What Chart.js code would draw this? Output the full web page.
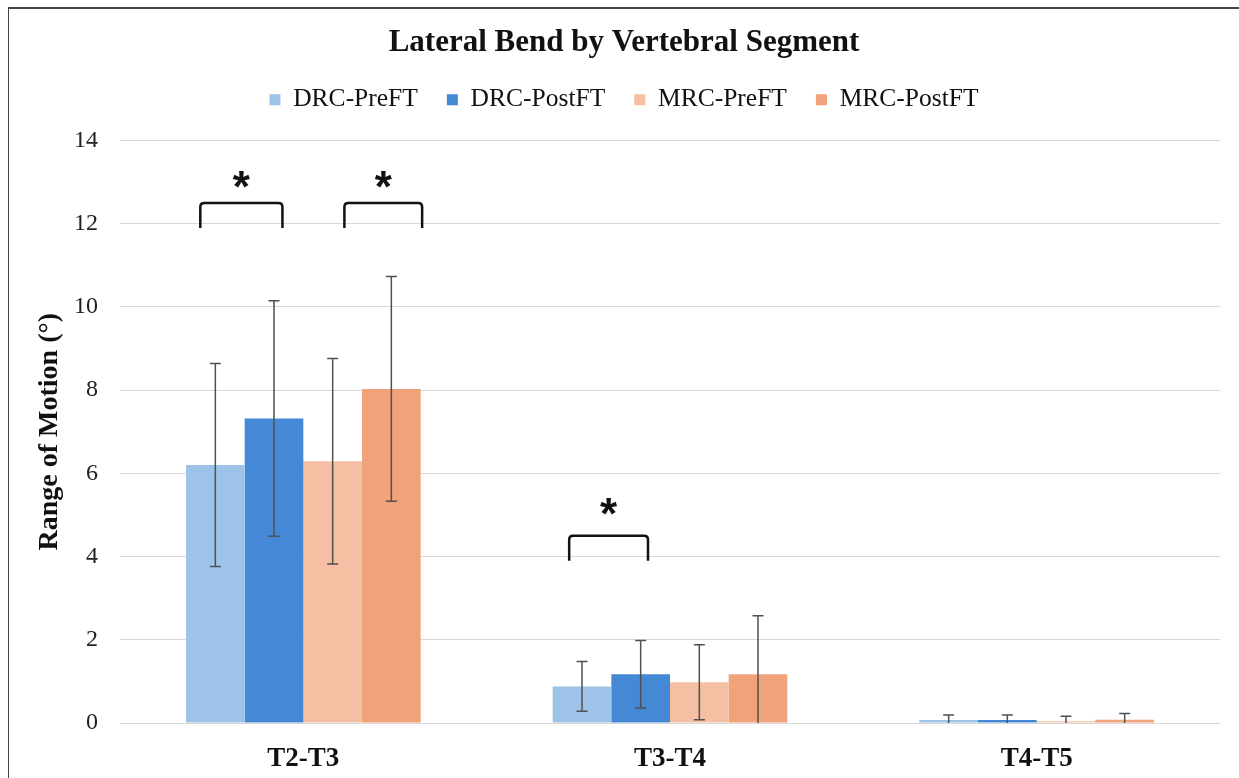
<!DOCTYPE html>
<html>
<head>
<meta charset="utf-8">
<script src="https://cdn.jsdelivr.net/npm/chart.js@4.4.0/dist/chart.umd.min.js"></script>
<style>
  html, body { margin: 0; padding: 0; background: #fff; }
  #wrap { position: relative; width: 1239px; height: 778px; }
  #frame { position: absolute; left: 8px; top: 7px; right: -2px; bottom: -2px; border-top: 2px solid #444; border-left: 1px solid #444; pointer-events: none; }
  canvas { position: absolute; left: 0; top: 0; }
</style>
</head>
<body>
<div id="wrap">
  <canvas id="c" width="1239" height="778"></canvas>
  <div id="frame"></div>
</div>
<script>
const categories = ["T2-T3", "T3-T4", "T4-T5"];
const seriesNames = ["DRC-PreFT", "DRC-PostFT", "MRC-PreFT", "MRC-PostFT"];
const drcPre = [6.2, 0.88, 0.07];
const drcPost = [7.32, 1.17, 0.07];
const mrcPre = [6.29, 0.98, 0.04];
const mrcPost = [8.03, 1.17, 0.08];
const drcPreErr = [2.44, 0.6, 0.12];
const drcPostErr = [2.83, 0.81, 0.12];
const mrcPreErr = [2.47, 0.9, 0.12];
const mrcPostErr = [2.7, 1.41, 0.15];
const yTicks = [0, 2, 4, 6, 8, 10, 12, 14];
const colors = ["#9dc3e8", "#4589d6", "#f4bfa2", "#f0a27a"];

// significance brackets: category, left/right offset (in category units), top, leg bottom, star level
const bracketCat = [0, 0, 1];
const bracketFrom = [-0.281, 0.112, -0.275];
const bracketTo = [-0.057, 0.324, -0.06];
const bracketTop = [12.5, 12.5, 4.5];
const bracketLeg = [11.9, 11.9, 3.9];
const starLevel = [13.05, 13.05, 5.2];

const values = [drcPre, drcPost, mrcPre, mrcPost];
const errs = [drcPreErr, drcPostErr, mrcPreErr, mrcPostErr];

const legendGap = {
  id: 'legendGap',
  beforeLayout(chart) {
    const lg = chart.legend;
    if (lg && !lg._gapPatched) {
      const orig = lg.fit;
      lg.fit = function () { orig.call(this); this.height += 18; };
      lg._gapPatched = true;
    }
  }
};

const errorBars = {
  id: 'errorBars',
  afterDatasetsDraw(chart) {
    const ctx = chart.ctx;
    const y = chart.scales.y;
    const area = chart.chartArea;
    ctx.save();
    ctx.strokeStyle = '#505050';
    ctx.lineWidth = 1.5;
    chart.data.datasets.forEach((ds, di) => {
      const meta = chart.getDatasetMeta(di);
      meta.data.forEach((bar, i) => {
        const v = values[di][i], e = errs[di][i];
        const yt = y.getPixelForValue(v + e);
        let yb = y.getPixelForValue(v - e);
        const clipped = yb > area.bottom;
        if (clipped) yb = area.bottom;
        const x = bar.x;
        ctx.beginPath();
        ctx.moveTo(x, yt); ctx.lineTo(x, yb);
        ctx.moveTo(x - 5.5, yt); ctx.lineTo(x + 5.5, yt);
        if (!clipped) { ctx.moveTo(x - 5.5, yb); ctx.lineTo(x + 5.5, yb); }
        ctx.stroke();
      });
    });
    ctx.restore();
  }
};

const brackets = {
  id: 'brackets',
  afterDatasetsDraw(chart) {
    const ctx = chart.ctx;
    const xs = chart.scales.x, ys = chart.scales.y;
    const catW = xs.getPixelForValue(1) - xs.getPixelForValue(0);
    ctx.save();
    ctx.strokeStyle = '#111';
    ctx.lineWidth = 2.5;
    ctx.lineJoin = 'round';
    ctx.lineCap = 'butt';
    for (let k = 0; k < bracketCat.length; k++) {
      const c = xs.getPixelForValue(bracketCat[k]);
      const x1 = c + bracketFrom[k] * catW;
      const x2 = c + bracketTo[k] * catW;
      const yt = ys.getPixelForValue(bracketTop[k]);
      const yl = ys.getPixelForValue(bracketLeg[k]);
      const r = 4;
      ctx.beginPath();
      ctx.moveTo(x1, yl);
      ctx.lineTo(x1, yt + r);
      ctx.quadraticCurveTo(x1, yt, x1 + r, yt);
      ctx.lineTo(x2 - r, yt);
      ctx.quadraticCurveTo(x2, yt, x2, yt + r);
      ctx.lineTo(x2, yl);
      ctx.stroke();
      ctx.fillStyle = '#111';
      ctx.font = 'bold 44px "Liberation Sans", Arial, sans-serif';
      ctx.textAlign = 'center';
      ctx.textBaseline = 'middle';
      ctx.fillText('*', (x1 + x2) / 2, ys.getPixelForValue(starLevel[k]) + 10);
    }
    ctx.restore();
  }
};

new Chart(document.getElementById('c'), {
  type: 'bar',
  data: {
    labels: categories,
    datasets: seriesNames.map((n, i) => ({
      label: n,
      data: values[i],
      backgroundColor: colors[i],
      borderWidth: 0,
      categoryPercentage: 0.64,
      barPercentage: 1.0
    }))
  },
  options: {
    responsive: false,
    animation: false,
    devicePixelRatio: 1,
    layout: { padding: { left: 28, right: 19, top: 0, bottom: 0 } },
    plugins: {
      title: {
        display: true,
        text: 'Lateral Bend by Vertebral Segment',
        color: '#111',
        font: { family: '"Liberation Serif", "Times New Roman", serif', size: 31, weight: 'bold', lineHeight: 1 },
        padding: { top: 27, bottom: 0 }
      },
      legend: {
        display: true,
        position: 'top',
        labels: {
          color: '#111',
          font: { family: '"Liberation Serif", "Times New Roman", serif', size: 25.5 },
          boxWidth: 11,
          boxHeight: 11,
          padding: 29
        }
      },
      tooltip: { enabled: false }
    },
    scales: {
      x: {
        grid: { display: false },
        border: { display: false },
        ticks: {
          color: '#111',
          padding: 12,
          font: { family: '"Liberation Serif", "Times New Roman", serif', size: 27, weight: 'bold' }
        },
        afterFit(s) { s.height = 55; }
      },
      y: {
        min: 0,
        max: 14,
        afterBuildTicks(s) { s.ticks = yTicks.map(v => ({ value: v })); },
        grid: { color: '#d9d9d9', lineWidth: 1, drawTicks: false },
        border: { display: false },
        ticks: {
          color: '#222',
          padding: 22,
          font: { family: '"Liberation Serif", "Times New Roman", serif', size: 24 }
        },
        title: {
          display: true,
          text: 'Range of Motion (°)',
          color: '#111',
          font: { family: '"Liberation Serif", "Times New Roman", serif', size: 28, weight: 'bold' },
          padding: { top: 5, bottom: 0 }
        },
        afterFit(s) { s.width = 92; }
      }
    }
  },
  plugins: [legendGap, errorBars, brackets]
});
</script>
</body>
</html>
